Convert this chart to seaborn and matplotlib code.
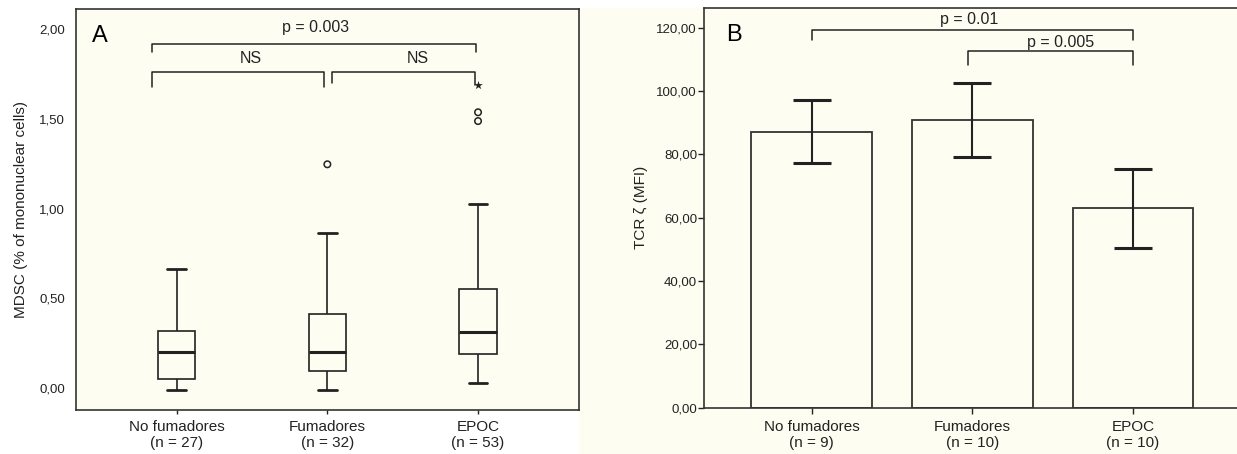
import numpy as np
import pandas as pd
import seaborn as sns
import matplotlib.pyplot as plt
from matplotlib.patches import Rectangle
from matplotlib.ticker import FuncFormatter

# Panel A: five-number summaries (min, Q1, median, Q3, max)
grupos = ["No fumadores", "Fumadores", "EPOC"]
n_a = [27, 32, 53]
nofum_box = [-0.013, 0.048, 0.199, 0.319, 0.663]
fum_box = [-0.013, 0.095, 0.199, 0.414, 0.862]
epoc_box = [0.028, 0.19, 0.31, 0.552, 1.026]
# outliers (circles) and extreme value (star)
out_grupo = ["Fumadores", "EPOC", "EPOC"]
out_val = [1.247, 1.537, 1.488]
ext_grupo = ["EPOC"]
ext_val = [1.689]

# Panel B: mean TCR zeta with error bar limits
n_b = [9, 10, 10]
tcr_mean = [87.1, 90.8, 62.9]
tcr_low = [77.2, 79.2, 50.5]
tcr_high = [97.1, 102.6, 75.2]

cream = "#fdfdf1"
ink = "#222222"

sns.set_style("ticks")
plt.rcParams["font.family"] = ["Liberation Sans", "DejaVu Sans"]

fig = plt.figure(figsize=(12.37, 4.54), dpi=100)
fig.patch.set_facecolor("white")
# cream area behind panel B
fig.patches.append(Rectangle((579 / 1237, 0), 1 - 579 / 1237, 446 / 454,
                             transform=fig.transFigure, facecolor=cream,
                             edgecolor="none", zorder=-10))

axA = fig.add_axes([76 / 1237, 44 / 454, 503 / 1237, 400.7 / 454])
axB = fig.add_axes([704 / 1237, 46.5 / 454, 533 / 1237, 399.5 / 454])

comma = FuncFormatter(lambda v, p: f"{v:.2f}".replace(".", ","))

# ---------- Panel A ----------
df = pd.DataFrame({
    "grupo": np.repeat(grupos, 5),
    "valor": nofum_box + fum_box + epoc_box,
})
sns.boxplot(data=df, x="grupo", y="valor", order=grupos, ax=axA,
            whis=(0, 100), width=0.25, color=cream, saturation=1, linecolor=ink,
            boxprops=dict(linewidth=1.2), whiskerprops=dict(linewidth=1.2),
            medianprops=dict(linewidth=2.2), capprops=dict(linewidth=2.0))

ox = [grupos.index(g) for g in out_grupo]
axA.scatter(ox, out_val, s=22, facecolors="none", edgecolors=ink, linewidths=1.1, zorder=5)
ex = [grupos.index(g) for g in ext_grupo]
axA.scatter(ex, ext_val, s=42, marker="*", color=ink, linewidths=0, zorder=5)

axA.set_facecolor(cream)
axA.set_xlim(-0.668, 2.67)
axA.set_ylim(-0.1226, 2.111)
axA.set_yticks([0, 0.5, 1.0, 1.5, 2.0])
axA.yaxis.set_major_formatter(comma)
axA.set_xticks(range(3))
axA.set_xticklabels([f"{g}\n(n = {n})" for g, n in zip(grupos, n_a)])
axA.set_xlabel("")
axA.set_ylabel("MDSC (% of mononuclear cells)", fontsize=11, color=ink, labelpad=8)
axA.tick_params(axis="y", length=0, pad=8, labelsize=9.5, colors=ink)
axA.tick_params(axis="x", length=3, width=1, pad=4, labelsize=11, colors=ink)
for s in axA.spines.values():
    s.set_visible(True)
    s.set_color("#333333")
    s.set_linewidth(1.2)
axA.text(0.032, 0.933, "A", transform=axA.transAxes, fontsize=17,
         ha="left", va="center", color="black")


def bracket(ax, x1, x2, y, y1, y2, label, tx, ty, lw=1.1):
    ax.plot([x1, x1, x2, x2], [y1, y, y, y2], color=ink, lw=lw, clip_on=False)
    ax.text(tx, ty, label, ha="center", va="center", fontsize=11.5, color=ink)


bracket(axA, -0.166, 1.986, 1.918, 1.875, 1.875, "p = 0.003", 0.922, 2.008)
bracket(axA, -0.166, 0.979, 1.763, 1.68, 1.68, "NS", 0.493, 1.838)
bracket(axA, 1.033, 1.98, 1.763, 1.70, 1.69, "NS", 1.603, 1.838)

# ---------- Panel B ----------
sns.barplot(x=grupos, y=tcr_mean, ax=axB, width=0.75, color=cream, saturation=1,
            edgecolor="#333333", linewidth=1.3, errorbar=None)
yerr = [np.array(tcr_mean) - np.array(tcr_low), np.array(tcr_high) - np.array(tcr_mean)]
axB.errorbar(range(3), tcr_mean, yerr=yerr, fmt="none", ecolor=ink,
             elinewidth=1.5, capsize=13.5, capthick=2.2, zorder=5)

axB.set_facecolor(cream)
axB.set_xlim(-0.67, 2.647)
axB.set_ylim(0, 126.2)
axB.set_yticks(range(0, 121, 20))
axB.yaxis.set_major_formatter(comma)
axB.set_xticks(range(3))
axB.set_xticklabels([f"{g}\n(n = {n})" for g, n in zip(grupos, n_b)])
axB.set_xlabel("")
axB.set_ylabel("TCR ζ (MFI)", fontsize=11, color=ink, labelpad=6)
axB.tick_params(axis="y", length=4, width=1, pad=1, labelsize=9.5, colors=ink)
axB.tick_params(axis="x", length=4, width=1, pad=5, labelsize=11, colors=ink)
for k, s in axB.spines.items():
    s.set_visible(k != "right")
    s.set_color("#333333")
    s.set_linewidth(1.2)
axB.text(0.041, 0.932, "B", transform=axB.transAxes, fontsize=17,
         ha="left", va="center", color="black")

bracket(axB, 0, 2, 119.4, 116.0, 116.0, "p = 0.01", 0.98, 122.6)
bracket(axB, 0.97, 2, 112.6, 108.2, 108.2, "p = 0.005", 1.55, 115.3)

fig.savefig("out.png", dpi=100, facecolor=fig.get_facecolor())
